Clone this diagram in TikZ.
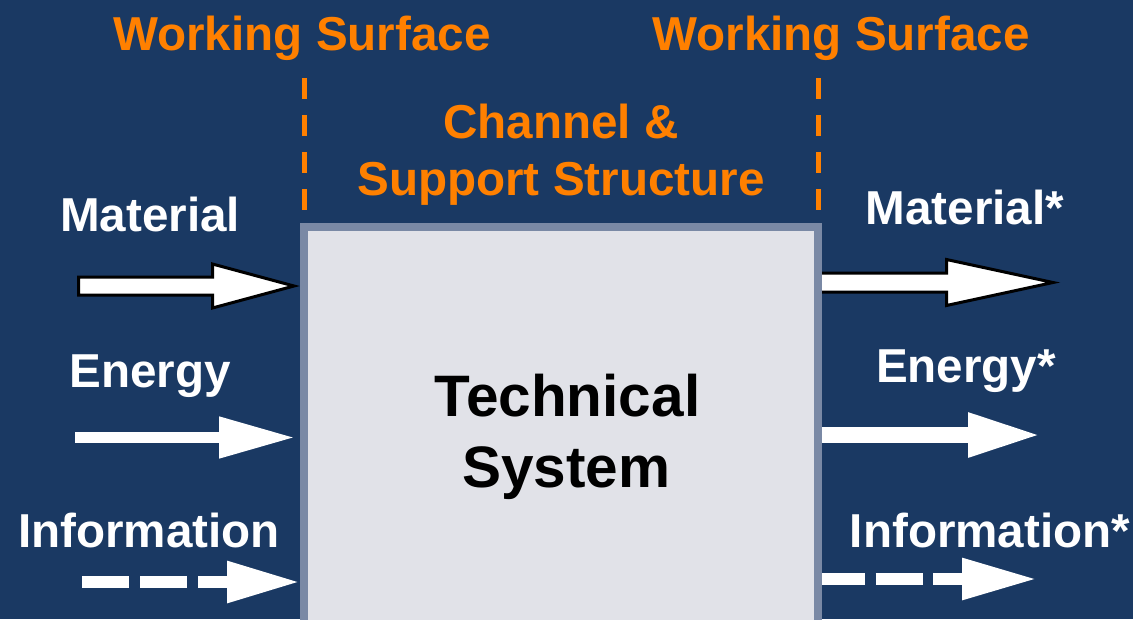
\documentclass[tikz,border=0pt]{standalone}
\usepackage{fontspec}
\setmainfont{Liberation Sans}
\usetikzlibrary{arrows.meta}

\definecolor{bgblue}{HTML}{1A3963}
\definecolor{wsorange}{HTML}{FF8000}
\definecolor{boxrim}{HTML}{7A89A5}
\definecolor{boxfill}{HTML}{E1E2E8}

\tikzset{
  lbl/.style={anchor=base, inner sep=0pt, font=\fontsize{47.6}{57}\selectfont\bfseries},
  orangelbl/.style={lbl, text=wsorange},
  whitelbl/.style={lbl, text=white},
  titlelbl/.style={anchor=base, inner sep=0pt, text=black, font=\fontsize{58.5}{70}\selectfont\bfseries},
  sysbox/.style={draw=boxrim, fill=boxfill, line width=8.5pt, rectangle, inner sep=0pt, outer sep=0pt, anchor=north west},
  wsline/.style={draw=wsorange, line width=5pt, dash pattern=on 21pt off 16pt},
  blockarrow/.style={draw=black, fill=white, line width=3pt, line join=miter},
  flowarrow/.style={draw=white, line cap=butt}
}

\begin{document}
\begin{tikzpicture}[x=1pt, y=-1pt]
  % canvas
  \fill[bgblue] (0,0) rectangle (1133,619);
  \useasboundingbox (0,0) rectangle (1133,619);
  \clip (0,0) rectangle (1133,619);

  % anchor points of the flows
  \coordinate (matIn)     at (78.5,286);
  \coordinate (matInTip)  at (294,286);
  \coordinate (matOut)    at (818,282.5);
  \coordinate (matOutTip) at (1053,282.5);
  \coordinate (enIn)      at (75,437.5);
  \coordinate (enInTip)   at (295,437.5);
  \coordinate (enOut)     at (818,435);
  \coordinate (enOutTip)  at (1043,435);
  \coordinate (infIn)     at (82,582);
  \coordinate (infInTip)  at (300,582);
  \coordinate (infOut)    at (818,579);
  \coordinate (infOutTip) at (1037,579);

  % working surface boundaries
  \coordinate (wsLtop) at (304,78);
  \coordinate (wsLbot) at (304,211);
  \coordinate (wsRtop) at (818,78);
  \coordinate (wsRbot) at (818,211);
  \draw[wsline] (wsLtop) -- (wsLbot);
  \draw[wsline] (wsRtop) -- (wsRbot);

  % material flow (outlined block arrows)
  \draw[blockarrow] (matIn) ++(0,-9) -- ++(134,0) -- ++(0,-13) -- (matInTip)
        -- ++(-81.5,22) -- ++(0,-13) -- ++(-134,0) -- cycle;
  \draw[blockarrow] (matOut) ++(0,-9.5) -- ++(128.5,0) -- ++(0,-13.5) -- (matOutTip)
        -- ++(-106.5,23) -- ++(0,-13.5) -- ++(-128.5,0) -- cycle;

  % energy flow
  \draw[flowarrow, line width=11pt, -{Triangle[length=76pt, width=39pt]}] (enIn) -- (enInTip);
  \draw[flowarrow, line width=16.5pt, -{Triangle[length=75pt, width=40pt]}] (enOut) -- (enOutTip);

  % information flow
  \draw[flowarrow, line width=12pt, dash pattern=on 47pt off 11pt,
        -{Triangle[length=73pt, width=39pt]}] (infIn) -- (infInTip);
  \draw[flowarrow, line width=12pt, dash pattern=on 47pt off 10.5pt,
        -{Triangle[length=75pt, width=39pt]}] (infOut) -- (infOutTip);

  % the technical system
  \node[sysbox, minimum width=514pt, minimum height=440pt] (sys) at (304,227) {};
  \node[titlelbl] (sysA) at (567.5,416) {Technical};
  \node[titlelbl] (sysB) at (566.5,487) {System};

  % labels
  \node[orangelbl] (wsL) at (302,50) {Working Surface};
  \node[orangelbl] (wsR) at (841,50) {Working Surface};
  \node[orangelbl] (chA) at (561,138) {Channel \&};
  \node[orangelbl] (chB) at (561,195) {Support Structure};

  \node[whitelbl] (lMat) at (150,231) {Material};
  \node[whitelbl] (lEn)  at (150,387) {Energy};
  \node[whitelbl] (lInf) at (149,547) {Information};
  \node[whitelbl] (rMat) at (965,224) {Material*};
  \node[whitelbl] (rEn)  at (966,382) {Energy*};
  \node[whitelbl] (rInf) at (990,547) {Information*};
\end{tikzpicture}
\end{document}
